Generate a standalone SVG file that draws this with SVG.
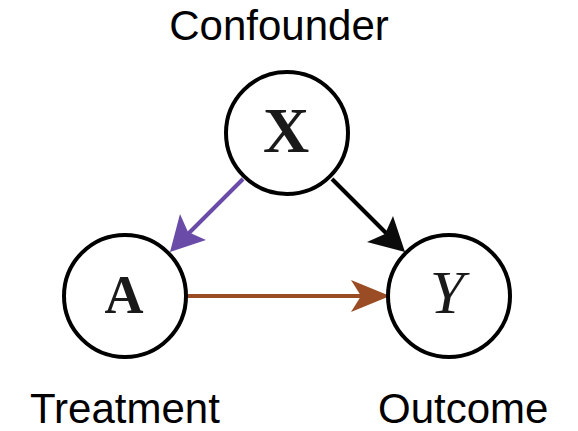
<svg xmlns="http://www.w3.org/2000/svg" width="578" height="431" viewBox="0 0 578 431">
<style>
.node{fill:#fff;stroke:#000;stroke-width:4}
.lbl{font-family:"Liberation Sans",Arial,sans-serif;font-size:42px;fill:#000}
.var{font-family:"Liberation Serif","DejaVu Serif",serif;fill:#1a1a1a;text-anchor:middle}
.edge{fill:none;stroke-width:4}
</style>
<rect width="578" height="431" fill="#fff"/>
<g id="connectors">
<line class="edge" x1="243" y1="179" x2="186" y2="236" stroke="#6a4ca8"/>
<polygon points="170,252 180,214 188,232 206,240" fill="#6a4ca8"/>
<line class="edge" x1="332" y1="179" x2="389" y2="236" stroke="#000"/>
<polygon points="405,252 367,242 385,234 393,216" fill="#0b0b0b"/>
<line class="edge" x1="186" y1="296" x2="370" y2="296" stroke="#9a4c24"/>
<polygon points="390,296 351,280 361,296 351,312" fill="#9a4c24"/>
</g>
<g id="X"><circle class="node" cx="287" cy="133" r="61"/><text class="var" x="286" y="152" font-weight="bold" font-size="64">X</text></g>
<g id="A"><circle class="node" cx="125" cy="296" r="61"/><text class="var" x="124" y="313" font-weight="bold" font-size="54">A</text></g>
<g id="Y"><circle class="node" cx="449" cy="296" r="61"/><text class="var" x="447" y="313" font-style="italic" font-size="62">Y</text></g>
<text class="lbl" x="279" y="40" text-anchor="middle">Confounder</text>
<text class="lbl" x="30" y="423" font-size="41">Treatment</text>
<text class="lbl" x="378" y="423" font-size="41">Outcome</text>
</svg>
